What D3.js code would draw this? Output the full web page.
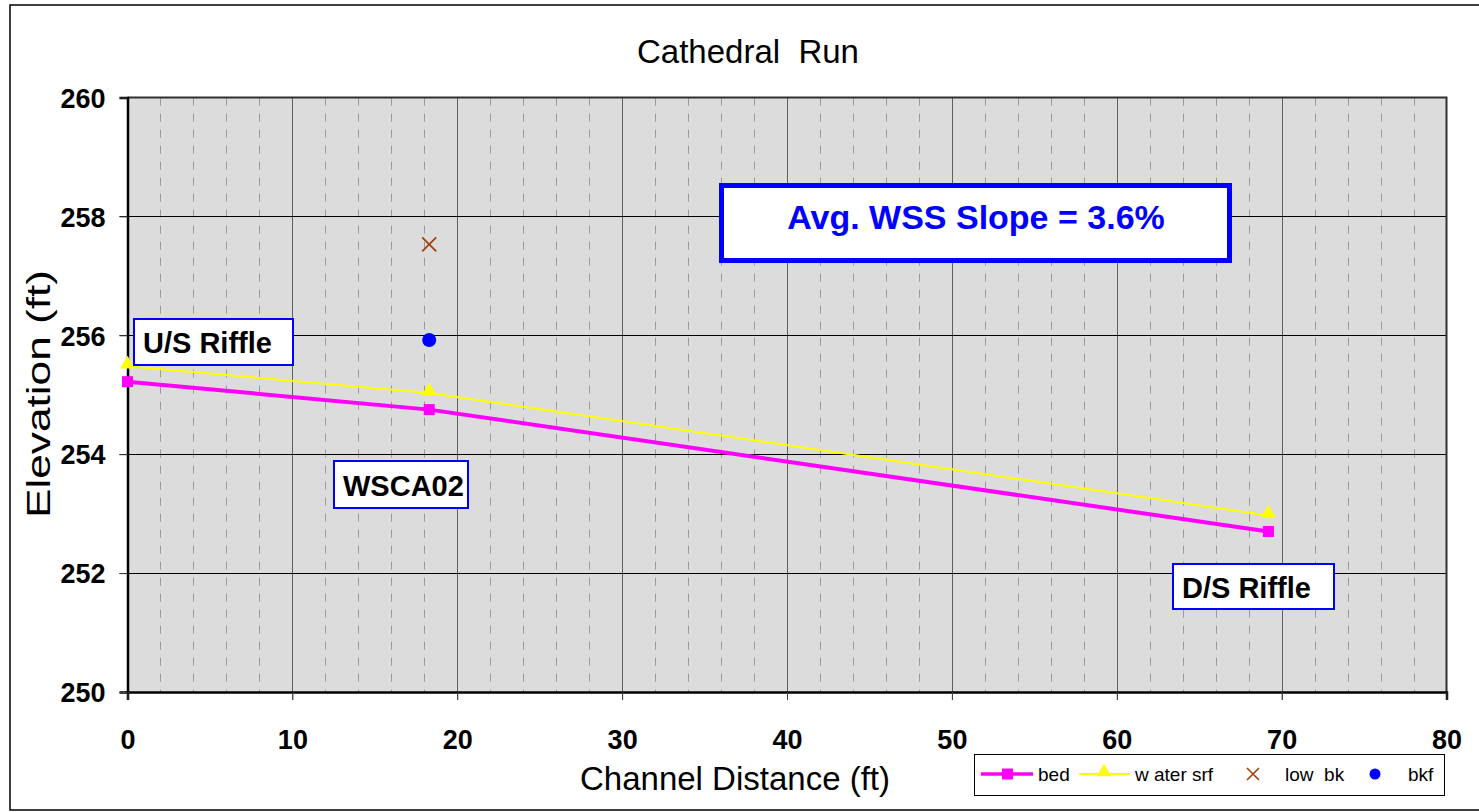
<!DOCTYPE html>
<html>
<head>
<meta charset="utf-8">
<script src="https://cdn.jsdelivr.net/npm/d3@7"></script>
<style>
  body { margin: 0; background: #fff; }
  text { font-family: Arial, "Liberation Sans", sans-serif; }
</style>
</head>
<body>
<div id="mainDiv"></div>
<script>
'use strict';

// data
var bedX = [0, 18.3, 69.2];
var bedY = [255.22, 254.75, 252.7];
var wsX = [0, 18.3, 69.2];
var wsY = [255.48, 255.03, 252.97];
var lowBk = [[18.3, 257.53]];
var bkf = [[18.3, 255.92]];
var xTicks = [0, 10, 20, 30, 40, 50, 60, 70, 80];
var yTicks = [250, 252, 254, 256, 258, 260];
var notes = [
  {text: 'U/S Riffle', x0: 134, y0: 319, x1: 293, y1: 365},
  {text: 'WSCA02', x0: 334, y0: 461, x1: 468, y1: 508},
  {text: 'D/S Riffle', x0: 1173, y0: 564, x1: 1334, y1: 609}
];

var myApp = {};
myApp.W = 1479;
myApp.H = 812;
myApp.plot = {left: 127.5, right: 1446.5, top: 97.5, bottom: 692};

myApp.run = function()
{
    var p = myApp.plot;
    var svg = d3.select('#mainDiv').append('svg')
        .attr('width', myApp.W)
        .attr('height', myApp.H);

    // outer chart frame
    svg.append('rect')
        .attr('x', 10).attr('y', 5)
        .attr('width', 1480).attr('height', 805)
        .attr('fill', '#fff').attr('stroke', '#000').attr('stroke-width', 1.5);

    var x = d3.scaleLinear().domain([0, 80]).range([p.left, p.right]);
    var y = d3.scaleLinear().domain([250, 260]).range([p.bottom, p.top]);

    svg.append('rect')
        .attr('x', p.left).attr('y', p.top)
        .attr('width', p.right - p.left).attr('height', p.bottom - p.top)
        .attr('fill', '#dcdcdc');

    // minor dashed verticals
    svg.append('g').selectAll('line')
        .data(d3.range(2, 80, 2).filter(function(v){ return v % 10 != 0; }))
        .enter().append('line')
        .attr('x1', function(d){ return Math.round(x(d)) + 0.5; })
        .attr('x2', function(d){ return Math.round(x(d)) + 0.5; })
        .attr('y1', p.top).attr('y2', p.bottom)
        .attr('stroke', '#9a9a9a').attr('stroke-dasharray', '8,8');

    // major verticals
    svg.append('g').selectAll('line')
        .data(xTicks.slice(1, -1))
        .enter().append('line')
        .attr('x1', function(d){ return Math.round(x(d)) + 0.5; })
        .attr('x2', function(d){ return Math.round(x(d)) + 0.5; })
        .attr('y1', p.top).attr('y2', p.bottom + 8)
        .attr('stroke', '#606060');

    // horizontal grid
    svg.append('g').selectAll('line')
        .data(yTicks.slice(1, -1))
        .enter().append('line')
        .attr('x1', p.left - 8).attr('x2', p.right)
        .attr('y1', function(d){ return Math.round(y(d)) + 0.5; })
        .attr('y2', function(d){ return Math.round(y(d)) + 0.5; })
        .attr('stroke', '#000');

    // plot border
    svg.append('path')
        .attr('d', 'M' + p.left + ',' + p.top + 'H' + p.right + 'V' + p.bottom)
        .attr('fill', 'none').attr('stroke', '#303030').attr('stroke-width', 2);

    // axes
    var yAxis = d3.axisLeft(y).tickValues(yTicks).tickSize(8).tickPadding(14);
    var xAxis = d3.axisBottom(x).tickValues(xTicks).tickSize(8).tickPadding(30);
    var gy = svg.append('g').attr('transform', 'translate(' + p.left + ',0)').call(yAxis);
    var gx = svg.append('g').attr('transform', 'translate(0,' + p.bottom + ')').call(xAxis);
    [gx, gy].forEach(function(g){
        g.select('.domain').attr('stroke', '#000').attr('stroke-width', 2.5);
        g.selectAll('.tick line').attr('stroke', '#404040');
        g.selectAll('.tick text')
            .attr('fill', '#000')
            .style('font-size', '27px')
            .style('font-weight', 'bold')
            .style('font-family', 'Arial, "Liberation Sans", sans-serif');
    });
    gy.selectAll('.tick text').attr('dy', '0.36em');

    // series lines
    var bed = bedX.map(function(v, i){ return [v, bedY[i]]; });
    var ws = wsX.map(function(v, i){ return [v, wsY[i]]; });
    var line = d3.line().x(function(d){ return x(d[0]); }).y(function(d){ return y(d[1]); });

    svg.append('path').datum(ws).attr('d', line)
        .attr('fill', 'none').attr('stroke', '#ffff00').attr('stroke-width', 2);
    svg.append('path').datum(bed).attr('d', line)
        .attr('fill', 'none').attr('stroke', '#ff00ff').attr('stroke-width', 4);

    var tri = d3.symbol().type(d3.symbolTriangle).size(95);
    svg.append('g').selectAll('path').data(ws).enter().append('path')
        .attr('d', tri)
        .attr('transform', function(d){ return 'translate(' + x(d[0]) + ',' + (y(d[1]) - 2) + ')'; })
        .attr('fill', '#ffff00');

    svg.append('g').selectAll('rect').data(bed).enter().append('rect')
        .attr('x', function(d){ return x(d[0]) - 5.5; })
        .attr('y', function(d){ return y(d[1]) - 5.5; })
        .attr('width', 11).attr('height', 11)
        .attr('fill', '#ff00ff');

    svg.append('g').selectAll('path').data(lowBk).enter().append('path')
        .attr('d', 'M-7,-7L7,7M-7,7L7,-7')
        .attr('transform', function(d){ return 'translate(' + x(d[0]) + ',' + y(d[1]) + ')'; })
        .attr('stroke', '#a0400a').attr('stroke-width', 1.8);

    svg.append('g').selectAll('circle').data(bkf).enter().append('circle')
        .attr('cx', function(d){ return x(d[0]); })
        .attr('cy', function(d){ return y(d[1]); })
        .attr('r', 7).attr('fill', '#0000ff');

    // annotation boxes
    notes.forEach(function(n){
        svg.append('rect')
            .attr('x', n.x0).attr('y', n.y0)
            .attr('width', n.x1 - n.x0).attr('height', n.y1 - n.y0)
            .attr('fill', '#fff').attr('stroke', '#0000ff').attr('stroke-width', 2);
        svg.append('text')
            .attr('x', n.x0 + 9).attr('y', (n.y0 + n.y1) / 2 + 11)
            .style('font-size', '29px').style('font-weight', 'bold')
            .text(n.text);
    });

    svg.append('rect')
        .attr('x', 721.5).attr('y', 185.5)
        .attr('width', 508).attr('height', 75)
        .attr('fill', '#fff').attr('stroke', '#0000ff').attr('stroke-width', 5);
    svg.append('text')
        .attr('x', 976).attr('y', 229)
        .attr('text-anchor', 'middle')
        .attr('fill', '#0000ff')
        .style('font-size', '34px').style('font-weight', 'bold')
        .text('Avg. WSS Slope = 3.6%');

    // titles
    svg.append('text')
        .attr('x', 748).attr('y', 63)
        .attr('text-anchor', 'middle')
        .style('font-size', '33px')
        .style('white-space', 'pre')
        .text('Cathedral  Run');
    svg.append('text')
        .attr('x', 735).attr('y', 790)
        .attr('text-anchor', 'middle')
        .style('font-size', '33px')
        .text('Channel Distance (ft)');
    svg.append('text')
        .attr('transform', 'translate(50,394) rotate(-90) scale(1.3,1)')
        .attr('text-anchor', 'middle')
        .style('font-size', '34px')
        .text('Elevation (ft)');

    // legend
    var lg = svg.append('g');
    lg.append('rect')
        .attr('x', 974.5).attr('y', 754.5)
        .attr('width', 470).attr('height', 41)
        .attr('fill', '#fff').attr('stroke', '#000').attr('stroke-width', 1);
    var ly = 774;
    lg.append('line').attr('x1', 981).attr('x2', 1033).attr('y1', ly).attr('y2', ly)
        .attr('stroke', '#ff00ff').attr('stroke-width', 3.5);
    lg.append('rect').attr('x', 1002).attr('y', ly - 5.5).attr('width', 11).attr('height', 11)
        .attr('fill', '#ff00ff');
    lg.append('line').attr('x1', 1079).attr('x2', 1130).attr('y1', ly).attr('y2', ly)
        .attr('stroke', '#ffff00').attr('stroke-width', 2);
    lg.append('path').attr('d', tri).attr('transform', 'translate(1104,' + (ly - 2) + ')')
        .attr('fill', '#ffff00');
    lg.append('path').attr('d', 'M-6,-6L6,6M-6,6L6,-6')
        .attr('transform', 'translate(1253,' + ly + ')')
        .attr('stroke', '#a0400a').attr('stroke-width', 1.6);
    lg.append('circle').attr('cx', 1375).attr('cy', ly).attr('r', 5.5).attr('fill', '#0000ff');

    var labels = [['bed', 1038], ['w ater srf', 1135], ['low  bk', 1285], ['bkf', 1408]];
    lg.selectAll('text.lab').data(labels).enter().append('text')
        .attr('class', 'lab')
        .attr('x', function(d){ return d[1]; })
        .attr('y', ly + 7)
        .style('font-size', '19px')
        .style('white-space', 'pre')
        .text(function(d){ return d[0]; });
}

window.onload = myApp.run;
</script>
</body>
</html>
